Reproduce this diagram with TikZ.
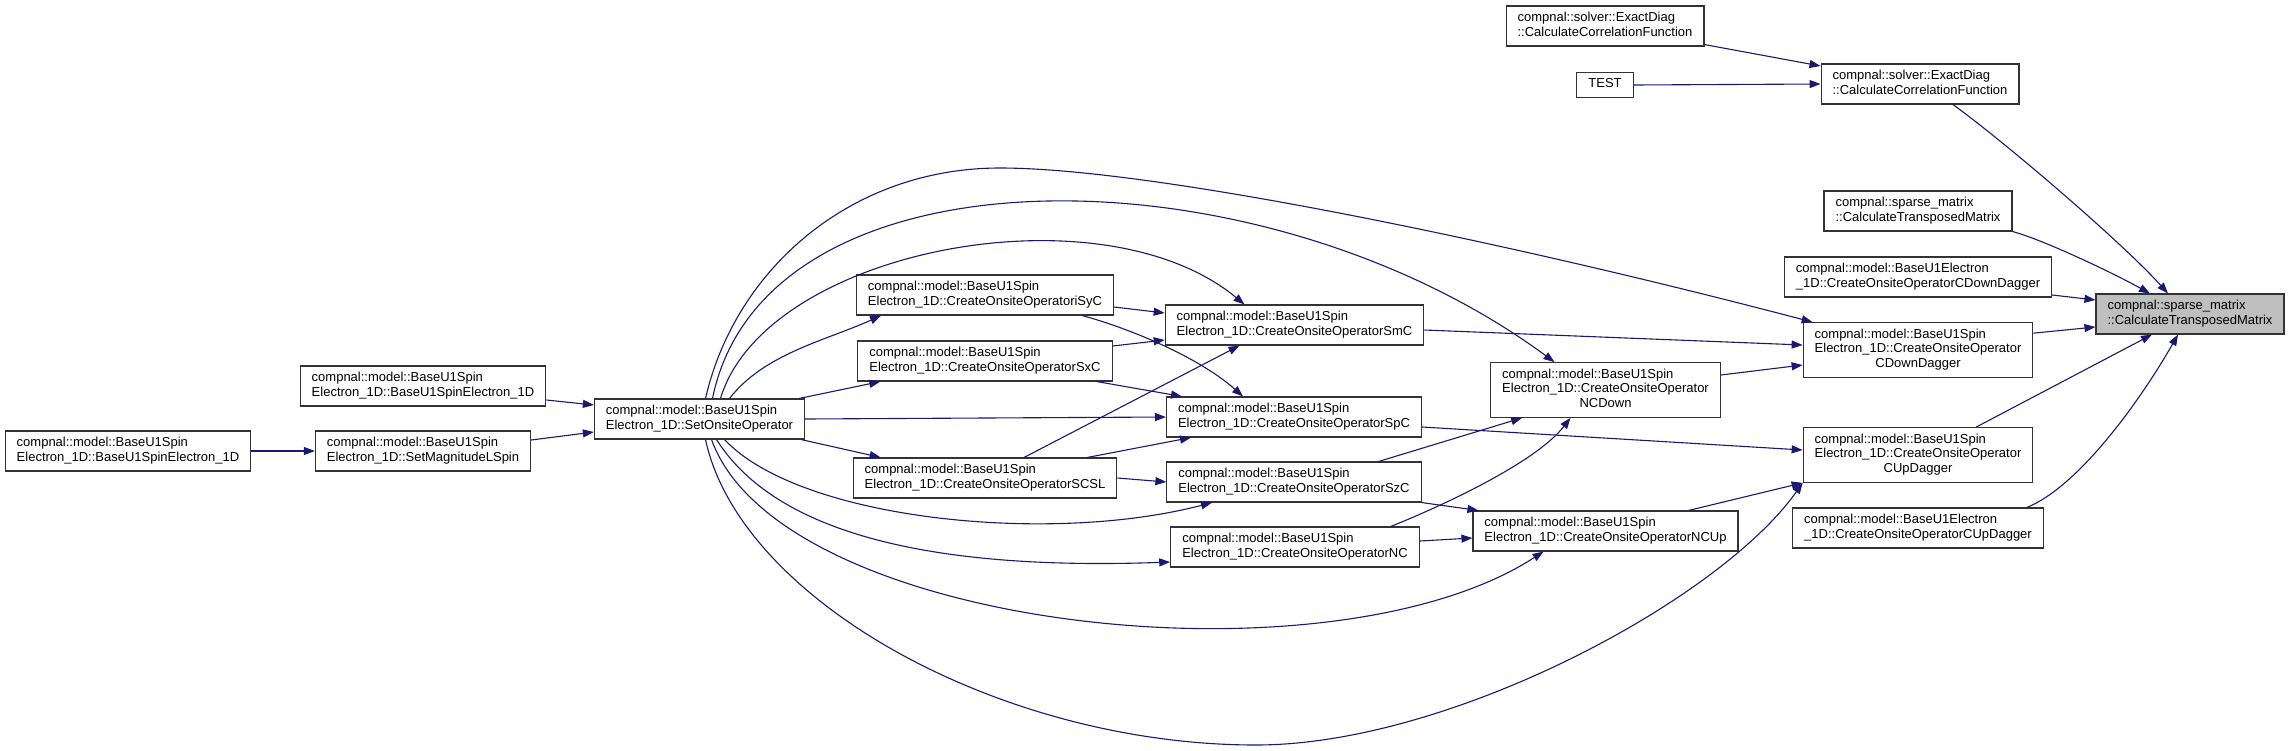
\documentclass[tikz,border=0pt]{standalone}
\usepackage{fontspec}
\setmainfont{Liberation Sans}
\usetikzlibrary{arrows.meta}

\definecolor{calledge}{RGB}{25,25,112}
\definecolor{boxline}{gray}{0.2}
\newcommand{\fnfont}{\fontsize{13pt}{14.6pt}\selectfont}
\newcommand{\fnlabel}[1]{\begin{tabular}{@{}l@{}}#1\end{tabular}}
\newcommand{\lastline}[1]{\multicolumn{1}{@{}c@{}}{#1}}

\tikzset{
  fnode/.style={draw=boxline, line width=1.1pt, fill=white, font=\fnfont,
    inner xsep=11.5pt, inner ysep=5.4pt},
  rootnode/.style={fnode, fill=black!25},
  call/.style={draw=calledge, line width=1.1pt, -{Triangle[length=11pt,width=8pt]}},
}

\begin{document}
\begin{tikzpicture}[x=1pt,y=-1pt]
    \useasboundingbox (0,0) rectangle (2296,750);

    % Left callers
    \node[fnode] (elec1d) at (128,451) {\fnlabel{compnal::model::BaseU1Spin\\Electron\_1D::BaseU1SpinElectron\_1D}};
    \node[fnode] (setmag) at (423,451) {\fnlabel{compnal::model::BaseU1Spin\\Electron\_1D::SetMagnitudeLSpin}};
    \node[fnode] (elecup) at (423,386) {\fnlabel{compnal::model::BaseU1Spin\\Electron\_1D::BaseU1SpinElectron\_1D}};
    \node[fnode] (setop) at (699.5,419) {\fnlabel{compnal::model::BaseU1Spin\\Electron\_1D::SetOnsiteOperator}};

    % Onsite operators
    \node[fnode] (isyc) at (985,295) {\fnlabel{compnal::model::BaseU1Spin\\Electron\_1D::CreateOnsiteOperatoriSyC}};
    \node[fnode] (sxc) at (985,361) {\fnlabel{compnal::model::BaseU1Spin\\Electron\_1D::CreateOnsiteOperatorSxC}};
    \node[fnode] (scsl) at (985,478) {\fnlabel{compnal::model::BaseU1Spin\\Electron\_1D::CreateOnsiteOperatorSCSL}};
    \node[fnode] (smc) at (1294.5,325) {\fnlabel{compnal::model::BaseU1Spin\\Electron\_1D::CreateOnsiteOperatorSmC}};
    \node[fnode] (spc) at (1294,417) {\fnlabel{compnal::model::BaseU1Spin\\Electron\_1D::CreateOnsiteOperatorSpC}};
    \node[fnode] (szc) at (1294,482) {\fnlabel{compnal::model::BaseU1Spin\\Electron\_1D::CreateOnsiteOperatorSzC}};
    \node[fnode] (nc) at (1295,547) {\fnlabel{compnal::model::BaseU1Spin\\Electron\_1D::CreateOnsiteOperatorNC}};
    \node[fnode] (ncdown) at (1605.5,390) {\fnlabel{compnal::model::BaseU1Spin\\Electron\_1D::CreateOnsiteOperator\\\lastline{NCDown}}};
    \node[fnode] (ncup) at (1605.5,531) {\fnlabel{compnal::model::BaseU1Spin\\Electron\_1D::CreateOnsiteOperatorNCUp}};

    % Solver
    \node[fnode] (edtop) at (1605,26) {\fnlabel{compnal::solver::ExactDiag\\::CalculateCorrelationFunction}};
    \node[fnode] (test) at (1605,85) {\fnlabel{TEST}};
    \node[fnode] (edmid) at (1920,84) {\fnlabel{compnal::solver::ExactDiag\\::CalculateCorrelationFunction}};

    % Direct callers of the root
    \node[fnode] (spcaller) at (1918,211) {\fnlabel{compnal::sparse\_matrix\\::CalculateTransposedMatrix}};
    \node[fnode] (ecdown) at (1918,277) {\fnlabel{compnal::model::BaseU1Electron\\\_1D::CreateOnsiteOperatorCDownDagger}};
    \node[fnode] (cdown) at (1918,350) {\fnlabel{compnal::model::BaseU1Spin\\Electron\_1D::CreateOnsiteOperator\\\lastline{CDownDagger}}};
    \node[fnode] (cup) at (1918,455) {\fnlabel{compnal::model::BaseU1Spin\\Electron\_1D::CreateOnsiteOperator\\\lastline{CUpDagger}}};
    \node[fnode] (ecup) at (1918,528) {\fnlabel{compnal::model::BaseU1Electron\\\_1D::CreateOnsiteOperatorCUpDagger}};

    % Root
    \node[rootnode] (target) at (2190,314) {\fnlabel{compnal::sparse\_matrix\\::CalculateTransposedMatrix}};

    % Left calls
    \draw[call] (elec1d.east) -- (setmag.west);
    \draw[call] ([yshift=11pt]setmag.east) -- ([yshift=-13pt]setop.west);
    \draw[call] ([yshift=-14pt]elecup.east) -- ([yshift=14pt]setop.west);

    % From SetOnsiteOperator
    \draw[call] ([xshift=30pt]setop.north) .. controls +(35,-45) and +(-55,25) .. ([xshift=-104pt]isyc.south);
    \draw[call] ([xshift=-6pt]setop.north east) -- ([xshift=23pt]sxc.south west);
    \draw[call] (setop.east) -- (spc.west);
    \draw[call] ([xshift=-4pt]setop.south east) -- ([xshift=28pt]scsl.north west);
    \draw[call] ([xshift=21pt]setop.north) .. controls (765,250) and (1100,185) .. ([xshift=-50pt]smc.north);
    \draw[call] ([xshift=13pt]setop.north) .. controls (765,140) and (1260,145) .. ([xshift=-51pt]ncdown.north);
    \draw[call] ([xshift=6pt]setop.north) .. controls (735,270) and (850,168) .. (1000,168)
        .. controls (1150,168) and (1500,240) .. ([xshift=10pt]cdown.north west);
    \draw[call] ([xshift=25pt]setop.south) .. controls (800,520) and (1050,545) .. ([xshift=-82pt]szc.south);
    \draw[call] ([xshift=17pt]setop.south) .. controls (780,540) and (950,570) .. ([yshift=-15pt]nc.west);
    \draw[call] ([xshift=12pt]setop.south) .. controls (780,630) and (1330,690) .. ([xshift=-62pt]ncup.south);
    \draw[call] ([xshift=6pt]setop.south) .. controls (740,600) and (1000,745) .. (1256,745)
        .. controls (1450,745) and (1720,600) .. (cup.south west);

    % Between onsite operators
    \draw[call] ([yshift=-12pt]isyc.east) -- ([yshift=12pt]smc.west);
    \draw[call] ([xshift=-32pt]isyc.south east) .. controls +(45,12) and +(-45,-40) .. ([xshift=-51pt]spc.north);
    \draw[call] ([yshift=15pt]sxc.east) -- ([yshift=-15pt]smc.west);
    \draw[call] ([xshift=-16pt]sxc.south east) -- ([xshift=16pt]spc.north west);
    \draw[call] ([xshift=39pt]scsl.north) -- ([xshift=-55pt]smc.south);
    \draw[call] ([xshift=-30pt]scsl.north east) -- ([xshift=25pt]spc.south west);
    \draw[call] (scsl.east) -- (szc.west);
    \draw[call] ([yshift=-5pt]smc.east) -- ([yshift=5pt]cdown.west);
    \draw[call] ([yshift=-10pt]spc.east) -- ([yshift=5pt]cup.west);
    \draw[call] ([xshift=-43pt]szc.north east) -- ([xshift=32pt]ncdown.south west);
    \draw[call] (szc.south east) -- ([xshift=6pt]ncup.north west);
    \draw[call] ([xshift=-29pt]nc.north east) .. controls +(50,-20) and +(-35,45) .. ([xshift=-35pt]ncdown.south);
    \draw[call] ([yshift=6pt]nc.east) -- ([yshift=-7pt]ncup.west);
    \draw[call] ([yshift=15pt]ncdown.east) -- ([yshift=-15pt]cdown.west);
    \draw[call] ([xshift=-50pt]ncup.north east) -- (cup.south west);

    % Right part
    \draw[call] ([yshift=2pt]edtop.south east) -- ([yshift=18pt]edmid.west);
    \draw[call] (test.east) -- (edmid.west);
    \draw[call] ([xshift=33pt]edmid.south) .. controls +(55,40) and +(-45,-50) .. ([xshift=-22pt]target.north);
    \draw[call] (spcaller.south east) .. controls +(30,8) and +(-40,-22) .. ([xshift=-40pt]target.north);
    \draw[call] ([yshift=-18pt]ecdown.east) -- ([yshift=14pt]target.west);
    \draw[call] ([yshift=-11pt]cdown.north east) -- ([yshift=-13pt]target.west);
    \draw[call] ([xshift=58pt]cup.north) -- ([xshift=-38pt]target.south);
    \draw[call] ([xshift=-17pt]ecup.north east) .. controls +(50,-20) and +(-40,70) .. ([xshift=-12pt]target.south);
\end{tikzpicture}
\end{document}
